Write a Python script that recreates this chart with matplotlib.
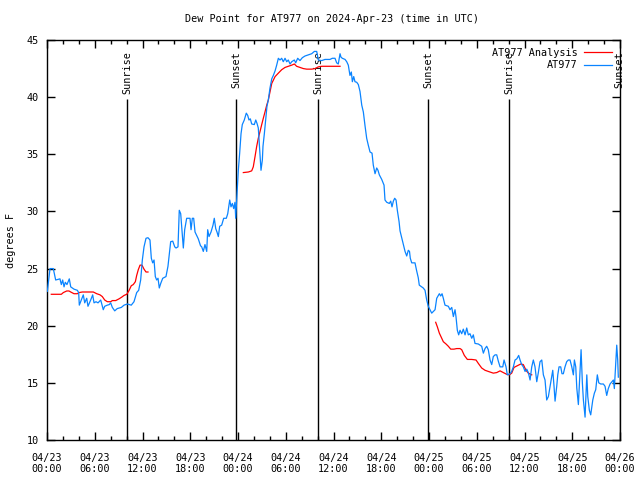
import numpy as np
import pandas as pd
import matplotlib
matplotlib.use("Agg")
import matplotlib.pyplot as plt
import matplotlib.dates as mdates

########################################
# Data (hours after 2024-04-23 00:00 UTC, degrees F)
########################################
START = pd.Timestamp("2024-04-23 00:00")

obs_hours = [
    0.04, 0.38, 0.79, 1.09, 1.63, 1.80, 1.97, 2.14, 2.30, 2.51, 2.80, 2.98, 3.39, 3.81,
    3.98, 4.06, 4.31, 4.56, 4.74, 4.99, 5.15, 5.49, 5.74, 5.91, 6.16, 6.41, 6.75, 7.07,
    7.25, 7.58, 7.83, 8.00, 8.21, 8.51, 8.83, 9.34, 9.68, 10.09, 10.59, 10.93, 11.27,
    11.52, 11.77, 11.98, 12.19, 12.44, 12.69, 12.94, 13.11, 13.28, 13.45, 13.61, 13.78,
    13.95, 14.11, 14.29, 14.54, 14.95, 15.20, 15.37, 15.54, 15.80, 16.05, 16.21, 16.46,
    16.62, 16.80, 16.96, 17.13, 17.30, 17.55, 17.97, 18.10, 18.26, 18.43, 18.60, 18.81,
    19.01, 19.29, 19.44, 19.64, 19.85, 20.07, 20.19, 20.36, 20.61, 20.86, 21.02, 21.20,
    21.36, 21.53, 21.70, 21.95, 22.20, 22.53, 22.71, 22.96, 23.12, 23.29, 23.46, 23.62,
    23.71, 23.88, 24.04, 24.21, 24.38, 24.54, 24.79, 25.04, 25.22, 25.38, 25.55, 25.72,
    26.05, 26.23, 26.39, 26.55, 26.73, 26.89, 27.06, 27.14, 27.31, 27.48, 27.64, 27.81,
    28.02, 28.24, 28.44, 28.66, 28.86, 29.07, 29.28, 29.49, 29.69, 29.91, 30.12, 30.32,
    30.54, 30.75, 31.08, 31.25, 31.50, 31.79, 32.08, 32.42, 32.84, 33.26, 33.59, 33.89,
    34.09, 34.52, 34.93, 35.56, 35.85, 36.19, 36.40, 36.60, 36.82, 36.94, 37.11, 37.45,
    37.66, 37.86, 38.07, 38.24, 38.37, 38.54, 38.70, 38.92, 39.12, 39.33, 39.55, 39.75,
    39.96, 40.17, 40.37, 40.59, 40.84, 41.00, 41.22, 41.43, 41.59, 41.76, 42.06, 42.35,
    42.47, 42.69, 43.01, 43.19, 43.35, 43.52, 43.69, 43.86, 44.02, 44.24, 44.36, 44.57,
    44.77, 44.99, 45.20, 45.40, 45.55, 45.65, 45.83, 46.24, 46.45, 46.65, 46.78, 47.08,
    47.28, 47.50, 47.71, 47.91, 48.34, 48.76, 48.97, 49.30, 49.47, 49.64, 49.80, 50.01,
    50.43, 50.64, 50.86, 51.06, 51.27, 51.39, 51.56, 51.73, 51.90, 52.11, 52.31, 52.53,
    52.74, 52.94, 53.15, 53.37, 53.57, 53.78, 54.20, 54.62, 54.83, 55.04, 55.25, 55.45,
    55.67, 55.88, 56.08, 56.30, 56.51, 56.71, 56.93, 57.27, 57.43, 57.68, 57.84, 58.18,
    58.39, 58.60, 58.81, 59.03, 59.27, 59.44, 59.65, 59.85, 60.07, 60.28, 60.48, 60.70,
    60.91, 61.11, 61.32, 61.54, 61.74, 61.95, 62.17, 62.37, 62.58, 62.79, 63.00, 63.21,
    63.33, 63.55, 63.71, 63.84, 64.05, 64.18, 64.34, 64.55, 64.71, 64.88, 65.09, 65.30,
    65.51, 65.72, 65.94, 66.14, 66.27, 66.44, 66.57, 66.77, 66.90, 67.11, 67.27, 67.40,
    67.61, 67.83, 67.95, 68.15, 68.32, 68.58, 68.78, 68.95, 69.15, 69.33, 69.58, 69.91,
    70.12, 70.33, 70.53, 70.75, 71.00, 71.17, 71.29, 71.41, 71.59, 71.71, 71.79,
]
obs_dewpt = [
    23.0, 25.0, 25.0, 24.0, 24.1, 23.6, 24.0, 23.4, 23.8, 23.6, 24.1, 23.4, 23.2, 23.1,
    22.9, 21.8, 22.25, 22.7, 22.0, 22.4, 21.7, 22.25, 22.7, 22.0, 22.1, 22.0, 22.25, 21.4,
    21.7, 21.8, 21.85, 22.0, 21.6, 21.3, 21.5, 21.6, 21.8, 21.9, 21.8, 22.1, 22.9,
    23.1, 24.0, 25.75, 26.9, 27.65, 27.7, 27.5, 25.9, 25.5, 25.75, 24.3, 24.0,
    24.15, 23.3, 23.7, 24.15, 24.3, 25.2, 26.3, 27.35, 27.4, 26.9, 26.8, 26.9,
    30.1, 29.8, 28.4, 26.8, 28.4, 29.4, 29.4, 28.4, 29.4, 29.4, 28.2, 27.9,
    27.6, 27.0, 26.9, 26.5, 27.1, 26.5, 28.4, 27.8, 28.2, 28.8, 29.4, 28.5,
    28.2, 27.8, 28.7, 28.8, 29.4, 29.4, 29.8, 31.0, 30.4, 30.7, 30.25, 30.8,
    29.4, 31.6, 33.6, 35.1, 36.8, 37.6, 38.0, 38.6, 38.4, 38.0, 38.1, 37.65,
    37.6, 38.0, 37.7, 37.3, 35.4, 33.6, 34.5, 35.7, 36.8, 38.0, 39.2, 39.75,
    40.8, 41.6, 41.9, 42.3, 42.8, 43.4, 43.25, 43.4, 43.1, 43.4, 43.1, 43.25,
    42.9, 43.1, 43.25, 43.0, 43.4, 43.2, 43.45, 43.6, 43.7, 43.8, 44.0, 44.0,
    43.25, 43.2, 43.3, 43.3, 43.4, 43.4, 43.0, 42.9, 43.8, 43.5, 43.4, 43.3,
    43.1, 42.8, 41.9, 42.2, 41.35, 41.8, 41.35, 41.3, 41.1, 40.5, 39.3, 38.7,
    37.5, 36.4, 35.8, 35.2, 35.1, 34.05, 33.3, 33.8, 33.6, 33.2, 32.8, 32.3,
    31.0, 30.8, 30.7, 30.9, 30.4, 30.9, 31.15, 31.0, 30.1, 29.1, 28.3, 27.7,
    27.15, 26.5, 26.1, 26.6, 26.5, 25.9, 25.5, 25.5, 24.8, 24.2, 23.55, 23.4,
    23.3, 23.1, 22.25, 21.7, 21.1, 21.4, 22.4, 22.8, 22.6, 22.8, 22.4, 21.8,
    21.7, 21.4, 21.6, 20.8, 21.4, 20.8, 19.6, 19.2, 19.6, 19.3, 19.7, 19.2,
    19.8, 19.2, 19.3, 18.9, 19.2, 18.45, 18.4, 18.2, 17.6, 18.0, 18.2, 17.9,
    17.0, 16.6, 17.3, 17.45, 17.45, 16.9, 16.4, 16.4, 17.0, 16.4, 15.7, 15.8,
    16.0, 16.4, 17.0, 17.1, 17.4, 17.0, 16.6, 16.4, 16.0, 16.2, 15.9, 15.25,
    16.4, 17.0, 16.4, 15.1, 15.9, 16.85, 17.0, 15.7, 15.25, 13.5, 13.8, 14.7,
    15.25, 16.1, 14.7, 13.4, 14.7, 15.7, 16.4, 16.4, 15.8, 15.8, 16.4, 16.85,
    17.0, 17.0, 16.4, 15.7, 17.0, 16.4, 14.55, 13.1, 15.0, 17.9, 15.0, 13.5,
    12.0, 15.7, 13.8, 12.6, 12.2, 13.5, 14.1, 14.4, 15.7, 15.0, 14.9, 14.9,
    14.7, 13.9, 14.5, 14.9, 15.1, 15.25, 14.5, 16.0, 18.3, 17.0, 15.5,
]

# analysis has gaps (nan separates the three runs)
ana_hours = [
    0.54, 1.80, 2.05, 2.48, 2.76, 2.98, 3.39, 3.81, 4.02, 4.44, 5.82, 6.25, 6.66, 6.95,
    7.25, 7.58, 8.00, 8.21, 8.63, 9.05, 9.39, 9.68, 10.02, 10.30, 10.59, 10.84, 11.10,
    11.27, 11.47, 11.69, 11.94, 12.19, 12.44, 12.69,
    12.70,
    24.67, 25.30, 25.72, 25.92, 26.14, 26.35, 26.55, 26.77, 26.98, 27.18, 27.39, 27.61,
    27.81, 28.24, 28.66, 29.07, 29.49, 29.91, 30.32, 30.75, 31.08, 31.37, 31.79, 32.21,
    32.63, 33.26, 33.68, 34.09, 34.52, 36.82,
    36.83,
    48.84, 49.05, 49.30, 49.60, 49.80, 50.14, 50.43, 50.73, 51.14, 51.48, 51.90, 52.11,
    52.44, 52.82, 53.37, 53.91, 54.20, 54.62, 55.04, 55.45, 56.08, 56.51, 56.93, 57.34,
    57.76, 58.09, 58.39, 58.68, 59.10, 59.53, 59.85, 60.19, 60.48, 60.91,
]
ana_dewpt = [
    22.75, 22.75, 22.9, 23.04, 23.04, 22.95, 22.8, 22.8, 22.9, 22.95, 22.95, 22.8, 22.7, 22.55,
    22.25, 22.1, 22.1, 22.2, 22.2, 22.35, 22.5, 22.65, 22.75, 23.07, 23.5, 23.6, 23.85,
    24.4, 24.9, 25.3, 25.3, 24.95, 24.7, 24.7,
    np.nan,
    33.4, 33.45, 33.55, 33.9, 34.8, 35.7, 36.4, 37.0, 37.6, 38.15, 38.7, 39.3,
    39.75, 41.2, 41.8, 42.1, 42.4, 42.6, 42.7, 42.8, 42.9, 42.7, 42.6, 42.5,
    42.45, 42.45, 42.5, 42.65, 42.7, 42.7,
    np.nan,
    20.3, 19.9, 19.35, 18.9, 18.6, 18.4, 18.2, 17.95, 17.95, 18.0, 18.0, 17.9,
    17.4, 17.05, 17.05, 17.0, 16.7, 16.3, 16.1, 16.0, 15.85, 15.9, 16.05, 15.9,
    15.75, 15.7, 15.85, 16.35, 16.5, 16.65, 16.6, 16.1, 15.85, 15.7,
]

sun_hours = [10.05, 23.80, 34.08, 47.90, 58.10, 71.97]
sun_labels = ["Sunrise", "Sunset", "Sunrise", "Sunset", "Sunrise", "Sunset"]

y_ticks = [10, 15, 20, 25, 30, 35, 40, 45]

########################################
# Plot
########################################
def to_time(hours):
    return START + pd.to_timedelta(np.asarray(hours, dtype=float), unit="h")

plt.rcParams["font.family"] = "DejaVu Sans Mono"
plt.rcParams["font.size"] = 7.3

fig = plt.figure(figsize=(6.4, 4.8), dpi=100)
ax = fig.add_axes([47 / 640, 40 / 480, 573 / 640, 400 / 480])

ax.plot(to_time(ana_hours), ana_dewpt, color="#ff0000", lw=0.9, label="AT977 Analysis", zorder=3)
ax.plot(to_time(obs_hours), obs_dewpt, color="#0a84ff", lw=0.9, label="AT977", zorder=3)

for h, lab in zip(sun_hours, sun_labels):
    t = to_time([h])[0]
    ax.vlines(t, 10, 39.85, color="black", lw=1.0, zorder=2)
    ax.text(t, 44.05, lab, rotation=90, ha="center", va="top", zorder=2)

ax.set_xlim(START, START + pd.Timedelta(hours=72))
ax.set_ylim(10, 45)
ax.set_yticks(y_ticks)

ax.xaxis.set_major_locator(mdates.HourLocator(byhour=range(0, 24, 6)))
ax.xaxis.set_minor_locator(mdates.HourLocator(byhour=range(0, 24, 2)))
ax.xaxis.set_major_formatter(mdates.DateFormatter("%m/%d\n%H:%M"))

ax.tick_params(which="both", direction="in", top=True, right=True, width=1.0)
ax.tick_params(which="major", length=6)
ax.tick_params(which="minor", length=3)
ax.tick_params(axis="x", pad=9)
ax.tick_params(axis="y", pad=6)
for s in ax.spines.values():
    s.set_linewidth(1.0)

ax.set_ylabel("degrees F")
ax.yaxis.set_label_coords(-31 / 573, 0.5)
fig.text(332 / 640, 1 - 19 / 480, "Dew Point for AT977 on 2024-Apr-23 (time in UTC)",
         ha="center", va="center")

ax.legend(loc="upper right", frameon=False, markerfirst=False, handlelength=2.8,
          handletextpad=0.6, labelspacing=0.25, borderaxespad=0.35)

fig.savefig("out.png", dpi=100)
